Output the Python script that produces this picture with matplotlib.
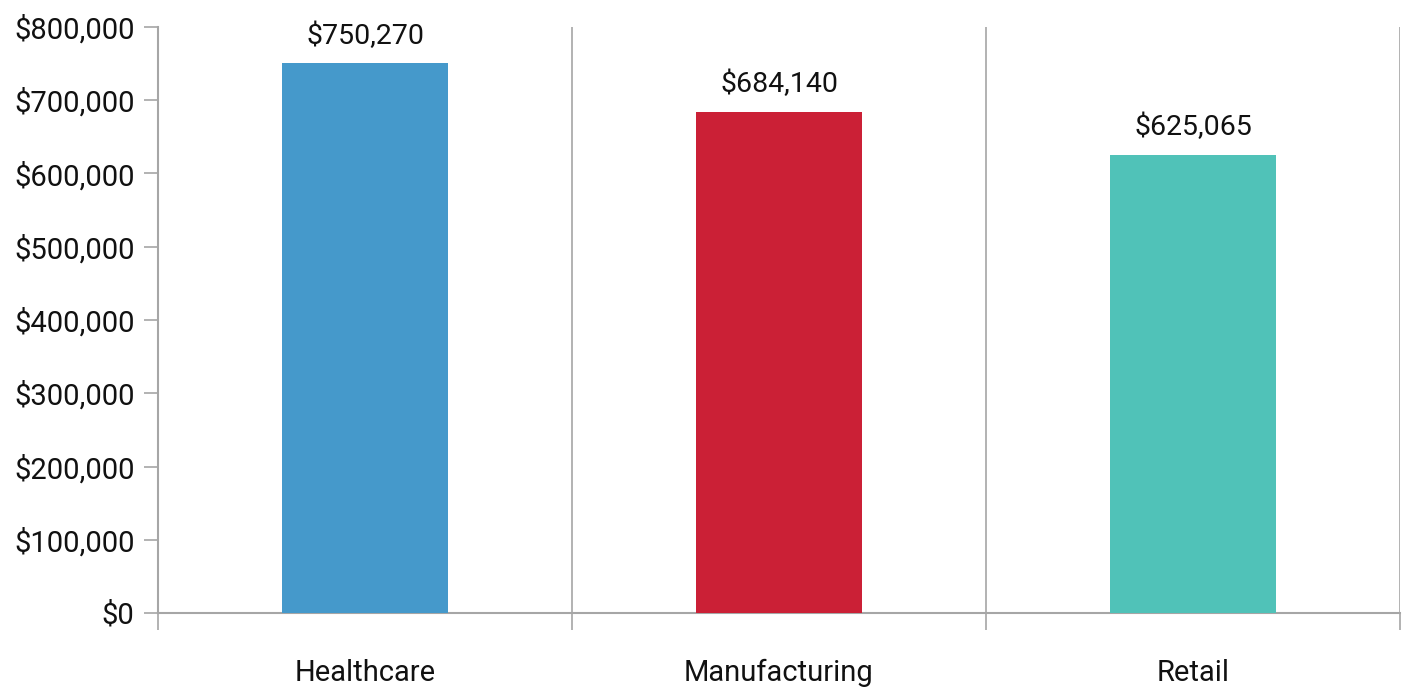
import matplotlib
matplotlib.use("Agg")
import matplotlib.pyplot as plt
from matplotlib.ticker import FuncFormatter, FixedLocator

categories = ["Healthcare", "Manufacturing", "Retail"]
values = [750270, 684140, 625065]
colors = ["#4599CB", "#CB2036", "#50C2B8"]
y_ticks = [0, 100000, 200000, 300000, 400000, 500000, 600000, 700000, 800000]

plt.rcParams["font.family"] = ["Roboto", "DejaVu Sans"]

fig = plt.figure(figsize=(14.05, 6.87), dpi=100)
ax = fig.add_axes([158 / 1405, 1 - 613 / 687, (1400 - 158) / 1405, (613 - 27) / 687])

x = range(len(categories))
bars = ax.bar(x, values, width=0.4, color=colors, zorder=3)

for xi, v in zip(x, values):
    ax.annotate(f"${v:,}", (xi, v), xytext=(0, 10), textcoords="offset points",
                ha="center", va="bottom", fontsize=20.5, color="#111111")

ax.set_xlim(-0.5, len(categories) - 0.5)
ax.set_ylim(0, 800000)
ax.set_yticks(y_ticks)
ax.yaxis.set_major_formatter(FuncFormatter(lambda v, p: f"${int(v):,}"))

ax.set_xticks(list(x))
ax.set_xticklabels(categories)
ax.xaxis.set_minor_locator(FixedLocator([i - 0.5 for i in range(len(categories) + 1)]))

gray = "#A6A6A6"
ax.tick_params(axis="x", which="major", length=0, pad=33, labelsize=21, labelcolor="#111111")
ax.tick_params(axis="x", which="minor", length=12, width=1.2, color=gray)
ax.tick_params(axis="y", length=10, width=1.2, color=gray, labelsize=21, labelcolor="#111111", pad=7)
ax.grid(axis="x", which="minor", color=gray, linewidth=1.2, zorder=0)

for side in ["top", "right"]:
    ax.spines[side].set_visible(False)
for side in ["left", "bottom"]:
    ax.spines[side].set_color(gray)
    ax.spines[side].set_linewidth(1.5)

fig.savefig("out.png", dpi=100)
